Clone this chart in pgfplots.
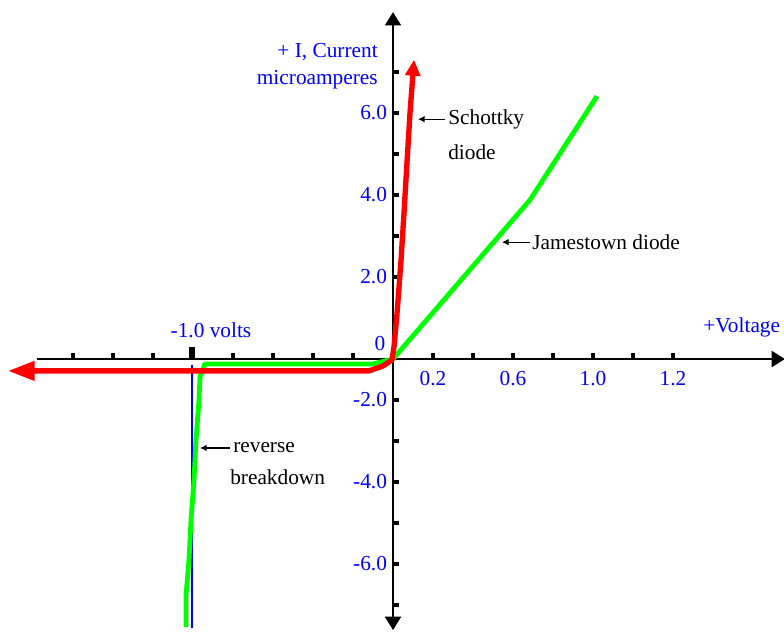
\documentclass[border=0pt]{standalone}
\usepackage{fontspec}
\setmainfont{Liberation Serif}
\usepackage{pgfplots}
\pgfplotsset{compat=1.18}
\usetikzlibrary{arrows.meta}
\definecolor{curvered}{HTML}{FF0000}
\definecolor{curvegreen}{HTML}{00FF00}
\definecolor{labelblue}{HTML}{0000FF}

\begin{document}
\begin{tikzpicture}[font=\fontsize{16}{19}\selectfont]
% page = 784 x 636 px at 0.75pt/px, origin of the axes at px (393,359)
\path[use as bounding box, clip] (-294.75pt,-207.75pt) rectangle (293.25pt,269.25pt);
\begin{axis}[
  anchor=origin, at={(0pt,0pt)},
  x=150pt, y=30.75pt,
  xmin=-1.78, xmax=1.96, ymin=-6.61, ymax=8.46,
  axis lines=middle,
  clip=false,
  axis line style={line width=1.5pt, black},
  x axis line style={-{Triangle[length=10pt,width=12pt]}},
  y axis line style={{Triangle[length=10pt,width=12pt]}-{Triangle[length=10pt,width=12pt]}},
  tick align=inside,
  major tick length=4.5pt,
  tick style={line width=2.4pt, black},
  major tick style={line width=2.4pt, black},
  xtick={-1.6,-1.4,-1.2,-1.0,-0.8,-0.6,-0.4,-0.2,0.2,0.4,0.6,0.8,1.0,1.2,1.4},
  xticklabels={,,,,,,,,0.2,,0.6,,1.0,,1.2},
  ytick={-6,-5,-4,-3,-2,-1,1,2,3,4,5,6,7},
  yticklabels={,-6.0,,-4.0,,-2.0,,2.0,,4.0,,6.0,},
  tick label style={font=\fontsize{16}{19}\selectfont, text=labelblue},
  xticklabel style={anchor=north, yshift=-6pt},
  yticklabel style={anchor=east, xshift=-1pt},
]
% reverse breakdown marker
\addplot[labelblue, line width=1.2pt] coordinates {(-1.005,-0.15) (-1.005,-6.56)};
% Jamestown diode
\addplot[curvegreen, line width=3.6pt, line join=round] coordinates {
  (-1.035,-6.54) (-1.035,-5.76) (-1.02,-4.9) (-1.01,-3.93) (-0.995,-2.95)
  (-0.985,-1.98) (-0.97,-1.0) (-0.965,-0.44) (-0.94,-0.12) (-0.1,-0.12)
  (0,0) (0.685,3.88) (1.02,6.41)};
% Schottky diode
\addplot[curvered, line width=4pt, line join=round,
  {Triangle[length=20pt,width=14pt]}-{Triangle[length=12pt,width=11pt]}] coordinates {
  (-1.925,-0.29) (-0.12,-0.29) (-0.05,-0.17) (-0.005,-0.02) (0.005,0.3)
  (0.02,1.1) (0.04,2.4) (0.055,3.56) (0.07,4.8) (0.085,6.0) (0.105,7.3)};
% heavy tick at -1.0
\draw[black, line width=4.5pt] (axis cs:-1.005,0) -- (axis cs:-1.005,0.29);
% labels
\node[text=labelblue] at (axis cs:-0.91,0.71) {-1.0 volts};
\node[text=labelblue, anchor=west, inner sep=0pt] at (axis cs:1.55,0.76) {+Voltage};
\node[text=labelblue] at (axis cs:-0.065,0.39) {0};
\node[text=labelblue, anchor=east, inner sep=0pt] at (axis cs:-0.075,7.49) {+ I, Current};
\node[text=labelblue, anchor=east, inner sep=0pt] at (axis cs:-0.075,6.80) {microamperes};
% annotations
\draw[-{Latex[length=5pt,width=5pt]}, line width=0.8pt] (axis cs:0.26,5.85) -- (axis cs:0.125,5.85);
\node[anchor=west, inner sep=0pt] at (axis cs:0.275,5.85) {Schottky};
\node[anchor=west, inner sep=0pt] at (axis cs:0.275,5.05) {diode};
\draw[-{Latex[length=5pt,width=5pt]}, line width=0.8pt] (axis cs:0.685,2.85) -- (axis cs:0.545,2.85);
\node[anchor=west, inner sep=0pt] at (axis cs:0.695,2.85) {Jamestown diode};
\draw[-{Latex[length=5pt,width=5pt]}, line width=0.8pt] (axis cs:-0.815,-2.17) -- (axis cs:-0.965,-2.17);
\node[anchor=west, inner sep=0pt] at (axis cs:-0.8,-2.17) {reverse};
\node[anchor=west, inner sep=0pt] at (axis cs:-0.815,-2.88) {breakdown};
\end{axis}
\end{tikzpicture}
\end{document}
